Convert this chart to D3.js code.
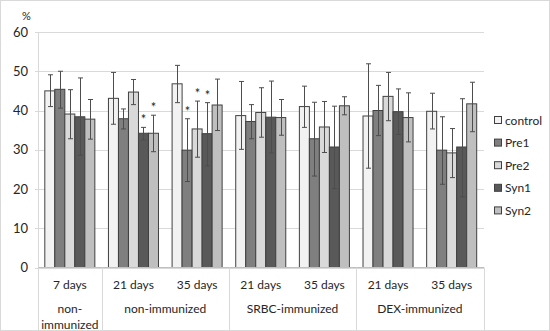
<!DOCTYPE html>
<html>
<head>
<meta charset="utf-8">
<script src="https://cdn.jsdelivr.net/npm/d3@7"></script>
<style>
  body { margin: 0; background: #fff; }
  svg { display: block; }
  text { font-family: Lato, "Liberation Sans", sans-serif; fill: #262626; }
</style>
</head>
<body>
<svg id="chart" width="550" height="331"></svg>
<script>
// ---- data ----
const categories = ["7 days", "21 days", "35 days", "21 days", "35 days", "21 days", "35 days"];
const groupLabels = [["non-", "immunized"], ["non-immunized"], ["SRBC-immunized"], ["DEX-immunized"]];
const groupSpans = [1, 2, 2, 2];
const seriesNames = ["control", "Pre1", "Pre2", "Syn1", "Syn2"];
const seriesColors = ["#f2f2f2", "#7f7f7f", "#d9d9d9", "#595959", "#bfbfbf"];

const control  = [45.0, 43.1, 46.8, 38.7, 41.0, 38.6, 39.8];
const pre1     = [45.4, 37.9, 29.9, 37.2, 32.8, 40.0, 29.9];
const pre2     = [39.1, 44.7, 35.3, 39.5, 35.8, 43.6, 29.2];
const syn1     = [38.4, 34.2, 34.1, 38.3, 30.7, 39.7, 30.7];
const syn2     = [37.8, 34.2, 41.4, 38.2, 41.2, 38.2, 41.7];

const controlHi = [49.1, 49.7, 51.5, 47.4, 46.2, 51.9, 44.4];
const controlLo = [41.0, 36.5, 42.0, 30.1, 35.7, 25.3, 35.3];
const pre1Hi    = [50.0, 40.4, 37.9, 41.5, 42.1, 46.4, 38.4];
const pre1Lo    = [40.6, 35.3, 21.9, 32.8, 23.3, 33.6, 21.2];
const pre2Hi    = [45.3, 47.9, 42.4, 45.8, 42.3, 49.7, 35.4];
const pre2Lo    = [32.8, 41.5, 28.1, 33.2, 29.3, 37.4, 22.9];
const syn1Hi    = [48.3, 35.7, 42.0, 47.5, 41.1, 45.5, 43.0];
const syn1Lo    = [28.6, 32.5, 25.9, 29.2, 20.1, 33.9, 18.0];
const syn2Hi    = [42.8, 38.8, 48.0, 42.8, 43.5, 44.5, 47.2];
const syn2Lo    = [32.7, 29.5, 34.9, 33.7, 38.9, 32.0, 34.6];

// significance marks (1 = "*")
const sigControl = [0, 0, 0, 0, 0, 0, 0];
const sigPre1 = [0, 0, 1, 0, 0, 0, 0];
const sigPre2 = [0, 0, 1, 0, 0, 0, 0];
const sigSyn1 = [0, 1, 1, 0, 0, 0, 0];
const sigSyn2 = [0, 1, 0, 0, 0, 0, 0];

const yTicks = [0, 10, 20, 30, 40, 50, 60];

// ---- build ----
const values = [control, pre1, pre2, syn1, syn2];
const his = [controlHi, pre1Hi, pre2Hi, syn1Hi, syn2Hi];
const los = [controlLo, pre1Lo, pre2Lo, syn1Lo, syn2Lo];
const sigs = [sigControl, sigPre1, sigPre2, sigSyn1, sigSyn2];

const svg = d3.select("#chart");
const W = 550, H = 331;
const mLeft = 38, mRight = 483.5, mTop = 32, mBottom = 267.5;

svg.append("rect").attr("x", 0.5).attr("y", 0.5).attr("width", W - 1).attr("height", H - 1)
  .attr("fill", "#fff").attr("stroke", "#d9d9d9");

const x = d3.scaleBand().domain(d3.range(categories.length)).range([mLeft, mRight]).paddingInner(0).paddingOuter(0);
const xs = d3.scaleBand().domain(d3.range(seriesNames.length))
  .range([0, x.bandwidth()]).paddingInner(0).paddingOuter(0.68);
const y = d3.scaleLinear().domain([0, 60]).range([mBottom, mTop]);

// gridlines + y axis
const yAxis = d3.axisLeft(y).tickValues(yTicks).tickSize(-(mRight - mLeft)).tickPadding(10);
const ga = svg.append("g").attr("transform", `translate(${mLeft},0)`).call(yAxis);
ga.select(".domain").remove();
ga.selectAll(".tick line").attr("stroke", "#d9d9d9").attr("x1", -3).attr("shape-rendering", "crispEdges");
ga.selectAll(".tick text").attr("font-size", 13).style("font-family", "Lato, sans-serif").attr("fill", "#262626");

// vertical axis line
svg.append("line").attr("x1", mLeft).attr("x2", mLeft).attr("y1", mTop).attr("y2", mBottom)
  .attr("stroke", "#d9d9d9").attr("shape-rendering", "crispEdges");

svg.append("text").attr("x", 22).attr("y", 20).attr("font-size", 11).text("%");

// bars
seriesNames.forEach((name, s) => {
  const g = svg.append("g");
  g.selectAll("rect").data(values[s]).join("rect")
    .attr("x", (d, i) => x(i) + xs(s))
    .attr("y", d => y(d))
    .attr("width", xs.bandwidth())
    .attr("height", d => y(0) - y(d))
    .attr("fill", seriesColors[s])
    .attr("stroke", "#404040").attr("stroke-width", 1);
});

// error bars
seriesNames.forEach((name, s) => {
  const g = svg.append("g").attr("stroke", "#4d4d4d").attr("stroke-width", 1);
  values[s].forEach((v, i) => {
    const cx = Math.round(x(i) + xs(s) + xs.bandwidth() / 2) + 0.5;
    const yh = y(his[s][i]), yl = y(los[s][i]);
    g.append("line").attr("x1", cx).attr("x2", cx).attr("y1", yh).attr("y2", yl);
    g.append("line").attr("x1", cx - 2.5).attr("x2", cx + 2.5).attr("y1", yh).attr("y2", yh);
    g.append("line").attr("x1", cx - 2.5).attr("x2", cx + 2.5).attr("y1", yl).attr("y2", yl);
    if (sigs[s][i]) {
      svg.append("text").attr("x", cx).attr("y", yh - 3).attr("text-anchor", "middle")
        .attr("font-size", 13).attr("fill", "#262626").text("*");
    }
  });
});

// baseline
svg.append("line").attr("x1", mLeft).attr("x2", mRight).attr("y1", mBottom).attr("y2", mBottom)
  .attr("stroke", "#bfbfbf").attr("shape-rendering", "crispEdges");

// category labels
svg.append("g").selectAll("text").data(categories).join("text")
  .attr("x", (d, i) => x(i) + x.bandwidth() / 2).attr("y", 289)
  .attr("text-anchor", "middle").attr("font-size", 12).text(d => d);

// group dividers and labels
let acc = 0;
const bounds = [0];
groupSpans.forEach(sp => { acc += sp; bounds.push(acc); });
bounds.forEach(b => {
  const xx = b < categories.length ? x(b) : mRight;
  svg.append("line").attr("x1", Math.round(xx) + 0.5).attr("x2", Math.round(xx) + 0.5)
    .attr("y1", mBottom).attr("y2", H - 1).attr("stroke", "#d9d9d9");
});
groupLabels.forEach((lines, gi) => {
  const x0 = x(bounds[gi]);
  const x1 = bounds[gi + 1] < categories.length ? x(bounds[gi + 1]) : mRight;
  const t = svg.append("text").attr("text-anchor", "middle").attr("font-size", 12);
  lines.forEach((ln, k) => {
    t.append("tspan").attr("x", (x0 + x1) / 2).attr("y", 313 + k * 16).text(ln);
  });
});

// legend
const lg = svg.append("g");
seriesNames.forEach((name, s) => {
  const yy = 120 + s * 22.6;
  lg.append("rect").attr("x", 494.5).attr("y", yy - 3.5).attr("width", 7).attr("height", 7)
    .attr("fill", seriesColors[s]).attr("stroke", "#404040");
  lg.append("text").attr("x", 505).attr("y", yy + 4.5).attr("font-size", 12).text(name);
});
</script>
</body>
</html>
